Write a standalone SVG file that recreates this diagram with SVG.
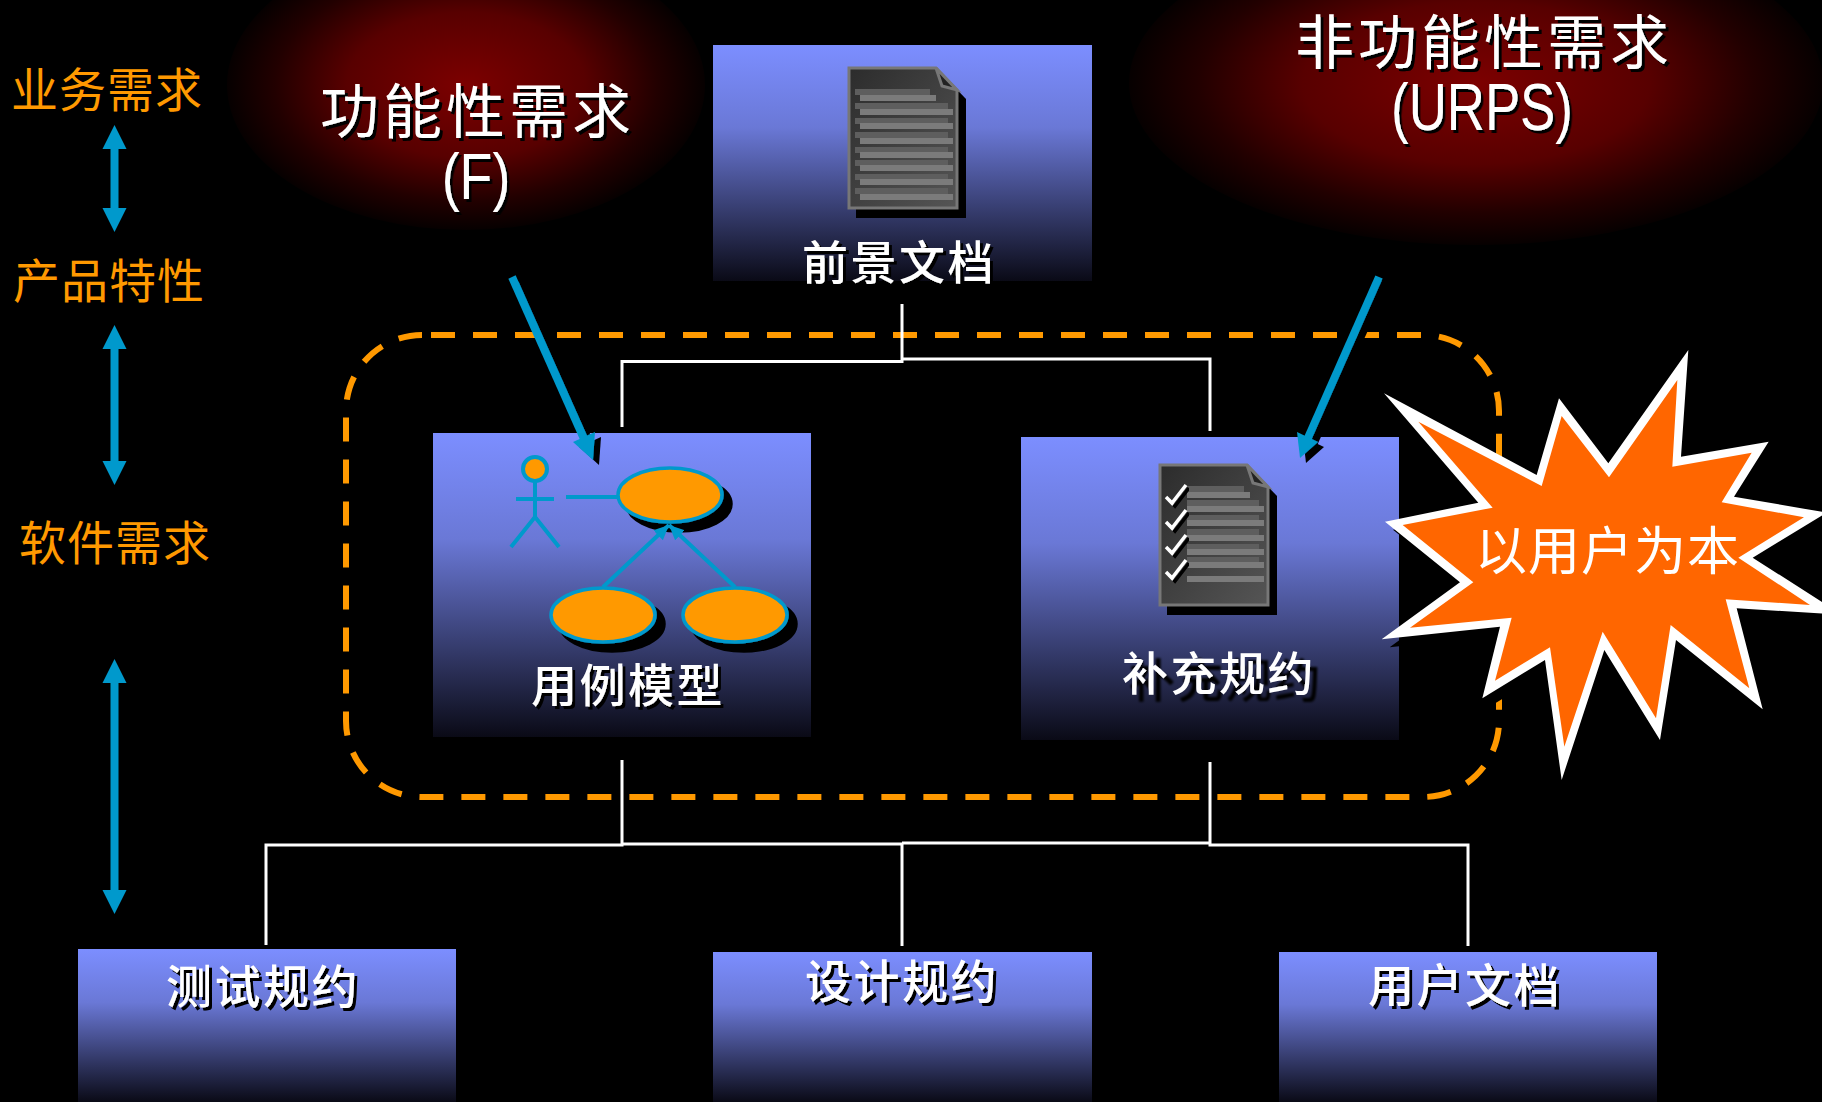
<svg xmlns="http://www.w3.org/2000/svg" xmlns:xlink="http://www.w3.org/1999/xlink" width="1822" height="1102" viewBox="0 0 1822 1102">
<style>
text{font-family:"Noto Sans CJK SC","Noto Sans",sans-serif}
.side{fill:#FF9900;font-size:47px;letter-spacing:1px}
.title{fill:#fff;font-size:59px;letter-spacing:4px;filter:url(#ts)}
.latin{fill:#fff;font-family:"Liberation Sans",sans-serif;filter:url(#ts)}
.lab{fill:#fff;font-size:46px;letter-spacing:2.5px;font-weight:500;filter:url(#ts)}
.box{fill:url(#boxg)}
.wire{fill:none;stroke:#fff;stroke-width:3}
.uml{fill:none;stroke:#0099CC;stroke-width:4}
.uc{fill:#FF9900;stroke:#0099CC;stroke-width:3.5;filter:url(#s9)}
.bar1{fill:#5e5e5e}.bar2{fill:#7b7b7b}
.dbl{fill:#0099CC}
</style>
<defs>
<linearGradient id="boxg" x1="0" y1="0" x2="0" y2="1"><stop offset="0" stop-color="#7C8EFF"/><stop offset="0.35" stop-color="#6A78D6"/><stop offset="1" stop-color="#0A0A16"/></linearGradient>
<radialGradient id="glow"><stop offset="0" stop-color="#7C0000"/><stop offset="0.5" stop-color="#580000"/><stop offset="0.8" stop-color="#220000"/><stop offset="1" stop-color="#060000"/></radialGradient>
<linearGradient id="doc" x1="0" y1="0" x2="1" y2="1"><stop offset="0" stop-color="#2c2c2c"/><stop offset="1" stop-color="#555"/></linearGradient>
<filter id="ts" x="-10%" y="-10%" width="125%" height="130%"><feDropShadow dx="3" dy="3" stdDeviation="0.5" flood-color="#000"/></filter>
<filter id="ts2" x="-10%" y="-10%" width="125%" height="130%"><feDropShadow dx="7" dy="7" stdDeviation="1" flood-color="#000"/></filter>
<filter id="as" x="-20%" y="-10%" width="140%" height="120%"><feDropShadow dx="6" dy="5" stdDeviation="0" flood-color="#000"/></filter>
<filter id="s9" x="-10%" y="-10%" width="130%" height="140%"><feDropShadow dx="9" dy="9" stdDeviation="0" flood-color="#000"/></filter>
<marker id="ah" markerUnits="userSpaceOnUse" markerWidth="16" markerHeight="16" refX="15" refY="7" orient="auto"><path d="M0 0L15 7L0 14Z" fill="#0099CC"/></marker>
<g id="docicon">
<path d="M0 0H88L110 23V142H0Z" fill="#000" transform="translate(8 9)"/>
<path d="M1 1H88L109 23V141H1Z" fill="url(#doc)" stroke="#777" stroke-width="3"/>
<path d="M88 1L94 19L109 23Z" fill="#222" stroke="#777" stroke-width="3"/>
</g>
</defs>
<rect width="1822" height="1102" fill="#000"/>
<g id="glow-functional"><ellipse cx="466" cy="85" rx="239" ry="145" fill="url(#glow)"/></g>
<g id="glow-nonfunctional"><ellipse cx="1476" cy="83" rx="347" ry="162" fill="url(#glow)"/></g>

<rect id="scope" x="346" y="335" width="1153" height="462" rx="76" ry="76" fill="none" stroke="#FF9900" stroke-width="6" stroke-dasharray="24 18" stroke-dashoffset="33"/>

<g id="node-vision">
<rect class="box" x="713" y="45" width="379" height="236"/>
<use xlink:href="#docicon" href="#docicon" x="848" y="67"/>
<g transform="translate(848 67)">
<path class="bar1" d="M7 22H82V28H7ZM7 36H100V42H7ZM7 51H100V57H7ZM7 65H100V71H7ZM7 80H100V86H7ZM7 93H100V99H7ZM7 107H100V113H7ZM7 121H100V127H7Z"/>
<path class="bar2" d="M12 28H88V34H12ZM12 42H105V48H12ZM12 56H105V62H12ZM12 71H105V77H12ZM12 85H105V91H12ZM12 98H105V104H12ZM12 112H105V118H12ZM12 127H105V133H12Z"/>
</g>
<text class="lab" x="802" y="279">前景文档</text>
</g>

<g id="node-usecase">
<rect class="box" x="433" y="433" width="378" height="304"/>
<ellipse class="uc" cx="670" cy="495" rx="52" ry="27"/>
<ellipse class="uc" cx="603" cy="615" rx="52" ry="27"/>
<ellipse class="uc" cx="735" cy="615" rx="52" ry="27"/>
<g class="uml">
<circle cx="535" cy="469" r="12" fill="#FF9900"/>
<path d="M535 481V517M516 499H554M511 547L535 517L559 547M566 497H617"/>
<path d="M603 587L669 525" marker-end="url(#ah)"/>
<path d="M735 587L669 525" marker-end="url(#ah)"/>
</g>
<text class="lab" x="531" y="702">用例模型</text>
</g>

<g id="node-supplement">
<rect class="box" x="1021" y="437" width="378" height="303"/>
<use xlink:href="#docicon" href="#docicon" x="1159" y="464"/>
<g transform="translate(1159 464)">
<path class="bar1" d="M28 22H85V28H28ZM28 36H100V42H28ZM28 51H100V57H28ZM28 65H100V71H28ZM28 80H100V86H28ZM28 93H100V99H28Z"/>
<path class="bar2" d="M28 28H91V34H28ZM28 42H105V48H28ZM28 56H105V62H28ZM28 71H105V77H28ZM28 85H105V91H28ZM28 98H105V104H28ZM28 112H105V118H28Z"/>
<g fill="none" stroke="#fff" stroke-width="3.5" style="filter:url(#ts)">
<path d="M7 33L13 39L27 21M7 58L13 64L27 46M7 83L13 89L27 71M7 108L13 114L27 96"/>
</g>
</g>
<text class="lab" x="1122" y="690" style="filter:url(#ts2)">补充规约</text>
</g>

<g id="node-test"><rect class="box" x="78" y="949" width="378" height="153"/><text class="lab" x="166" y="1003">测试规约</text></g>
<g id="node-design"><rect class="box" x="713" y="952" width="379" height="150"/><text class="lab" x="805" y="998">设计规约</text></g>
<g id="node-userdoc"><rect class="box" x="1279" y="952" width="378" height="150"/><text class="lab" x="1368" y="1002">用户文档</text></g>

<g id="connectors">
<path class="wire" d="M902 304V361.5H622V427M902 359H1210V431"/>
<path class="wire" d="M622 760V845H266V945M622 844H902M902 843H1210M1210 762V845H1468V946M902 843V946"/>
<g style="filter:url(#as)">
<path d="M512 277L585 441" fill="none" stroke="#0099CC" stroke-width="8"/>
<path d="M573 442L595 432L593 460Z" fill="#0099CC"/>
</g>
<g style="filter:url(#as)">
<path d="M1379 277L1307 440" fill="none" stroke="#0099CC" stroke-width="8"/>
<path d="M1297 432L1318 442L1300 458Z" fill="#0099CC"/>
</g>
<path class="dbl" d="M114.500 125L126.500 149H118.500V208H126.500L114.500 232L102.500 208H110.500V149H102.500Z"/>
<path class="dbl" d="M114.500 325L126.500 349H118.500V461H126.500L114.500 485L102.500 461H110.500V349H102.500Z"/>
<path class="dbl" d="M114.500 659L126.500 683H118.500V890H126.500L114.500 914L102.500 890H110.500V683H102.500Z"/>
</g>

<g id="side-labels">
<text class="side" x="11" y="107">业务需求</text>
<text class="side" x="13" y="298">产品特性</text>
<text class="side" x="19" y="560">软件需求</text>
</g>

<g id="label-f">
<text class="title" x="320" y="133">功能性需求</text>
<text class="latin" font-size="64" transform="translate(476 199) scale(0.84 1)" text-anchor="middle">(F)</text>
</g>
<g id="label-urps">
<text class="title" x="1295" y="64">非功能性需求</text>
<text class="latin" font-size="66" transform="translate(1482 130) scale(0.8 1)" text-anchor="middle">(URPS)</text>
</g>

<g id="node-burst">
<g transform="translate(1360 330) scale(0.33333)">
<polygon points="72,190 530,435 597,205 745,400 985,60 963,380 1226,335 1122,500 1400,548 1178,683 1400,825 1400,851 1130,835 1208,1138 948,930 900,1230 733,960 605,1350 555,990 367,1105 420,890 65,928 300,757 75,575 355,518" fill="#000" transform="translate(24 24)"/>
<polygon points="72,190 530,435 597,205 745,400 985,60 963,380 1226,335 1122,500 1400,548 1178,683 1400,825 1400,851 1130,835 1208,1138 948,930 900,1230 733,960 605,1350 555,990 367,1105 420,890 65,928 300,757 75,575 355,518" fill="#fff"/>
<polygon points="175,275 545,468 605,258 747,442 952,150 937,410 1175,368 1085,517 1332,562 1135,683 1350,825 1097,808 1168,1075 932,885 888,1165 728,905 613,1250 570,952 405,1052 455,863 150,893 340,757 128,585 398,533" fill="#FF6600"/>
</g>
<text x="1475" y="570" fill="#fff" font-size="52" letter-spacing="1">以用户为本</text>
</g>
</svg>
